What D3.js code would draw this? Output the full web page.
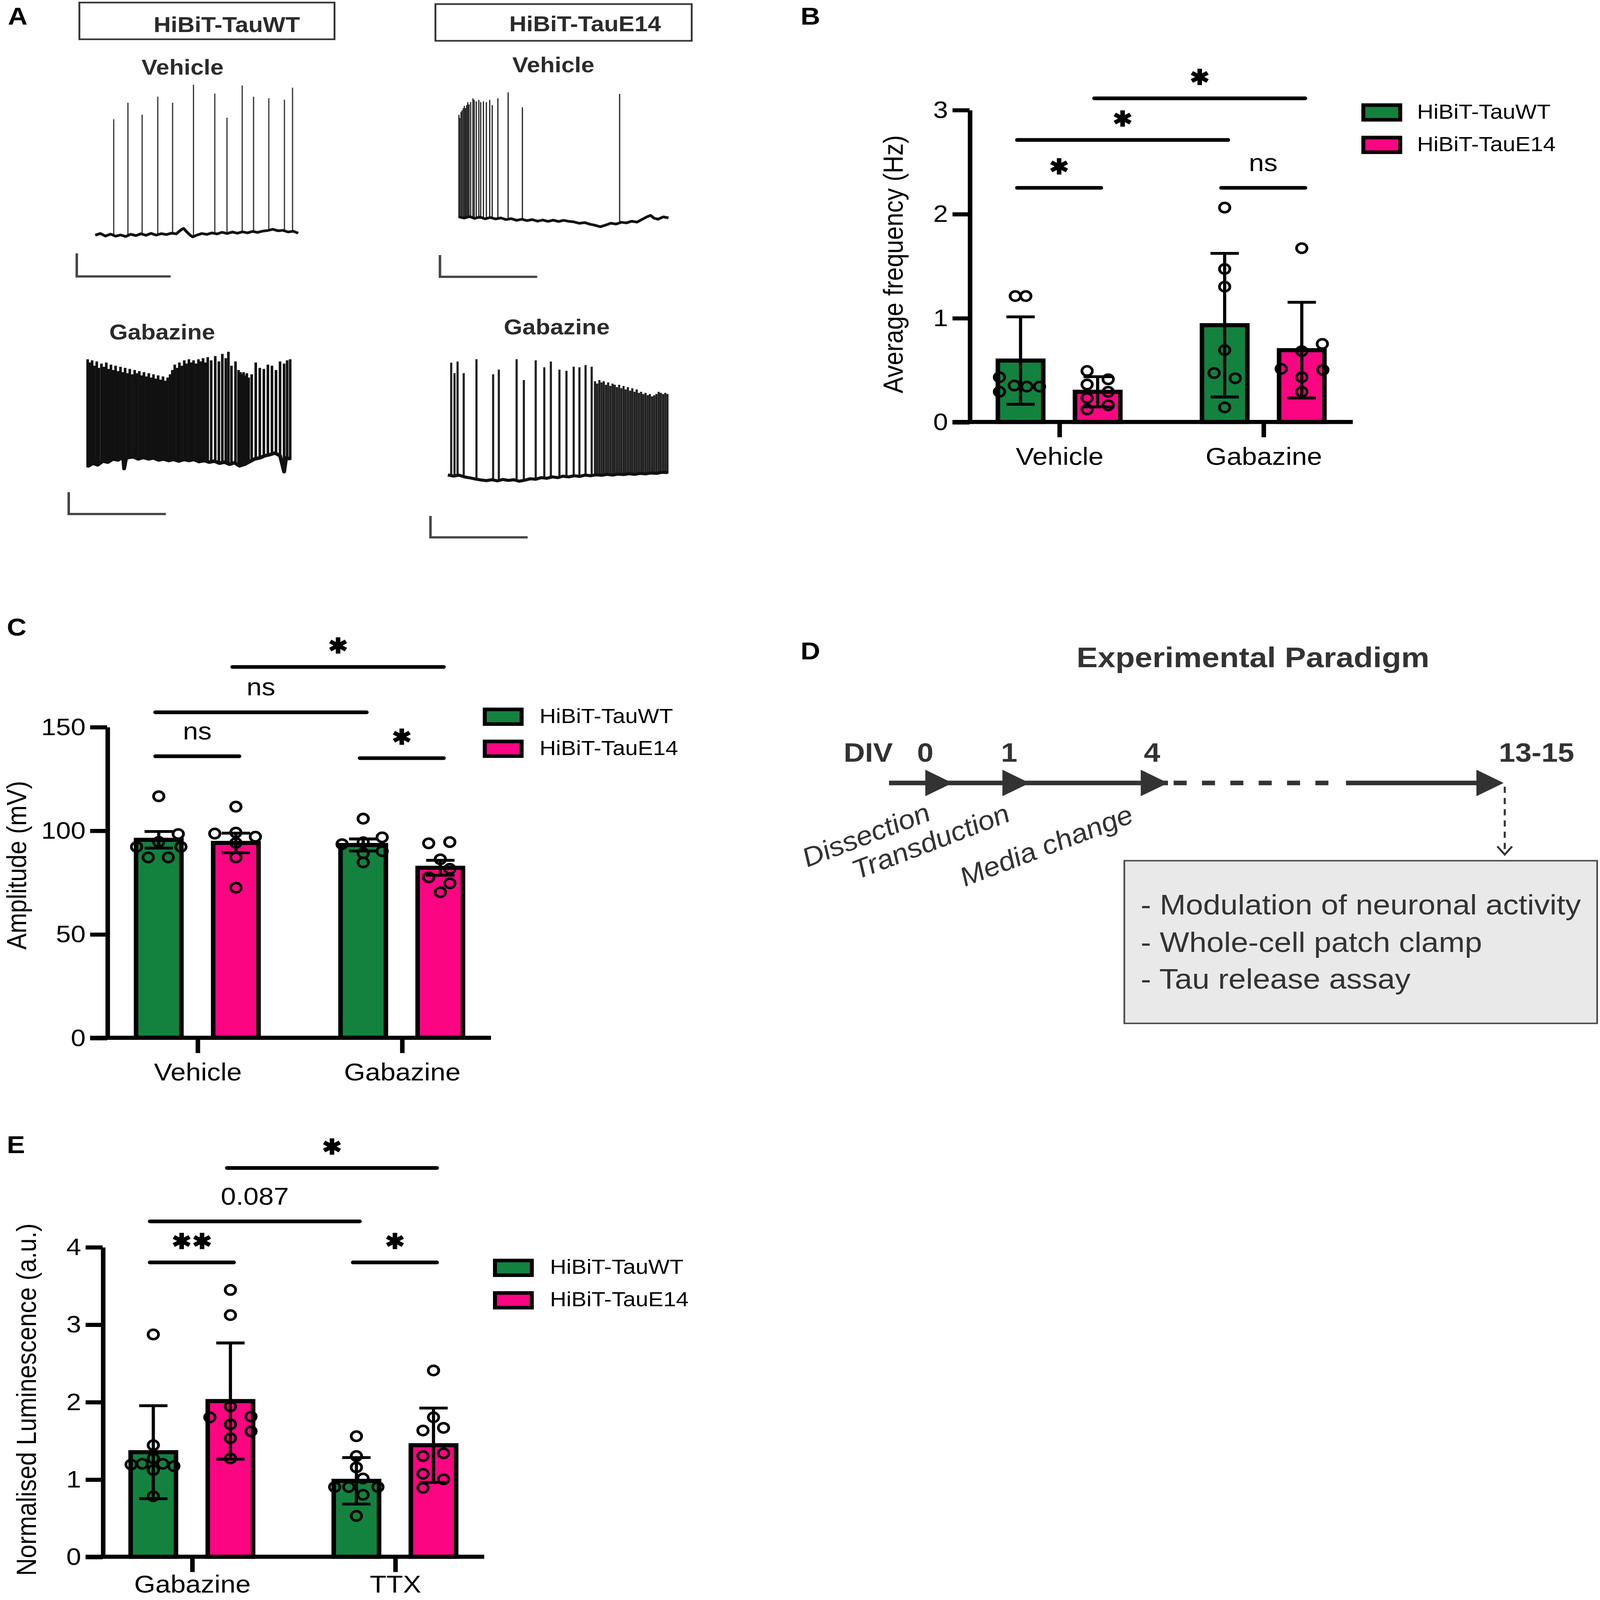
<!DOCTYPE html>
<html><head><meta charset="utf-8">
<script src="https://cdn.jsdelivr.net/npm/d3@7"></script>
<style>html,body{margin:0;padding:0;background:#fff;overflow:hidden;} svg{display:block;}</style>
</head><body><svg id="fig"></svg>
<script>
// ================= DATA =================
const panelLetters = ["A", "B", "C", "D", "E"];
const seriesNames = ["HiBiT-TauWT", "HiBiT-TauE14"];
const traceConditions = ["Vehicle", "Vehicle", "Gabazine", "Gabazine"];

// Panel A traces: spikes [time (a.u. 0-10), peak (relative mV)], baseline [time, level]
const vehWTSpikes = [[0.91,77],[1.61,88],[2.31,80],[3.08,92],[3.81,88],[4.84,100],[5.89,94],[6.49,78],[7.24,99.5],[7.80,92],[8.55,91],[9.32,90],[9.72,98]];
const vehWTBase = [[0,-0.3],[0.25,0.8],[0.5,-0.9],[0.75,0.4],[1.0,-1.0],[1.25,-0.2],[1.5,-1.2],[1.75,0.3],[2.0,-0.6],[2.25,0.6],[2.5,-0.4],[2.75,0.9],[3.0,-0.3],[3.25,0.7],[3.5,0.1],[3.75,1.0],[4.0,0.6],[4.2,3.0],[4.35,4.2],[4.5,2.0],[4.65,0.0],[4.8,-1.5],[5.0,-0.3],[5.25,0.8],[5.5,0.2],[5.75,1.2],[6.0,0.5],[6.25,1.6],[6.5,0.8],[6.75,1.8],[7.0,1.0],[7.25,1.9],[7.5,1.2],[7.75,2.2],[8.0,1.5],[8.25,2.4],[8.5,2.8],[8.75,3.6],[9.0,2.6],[9.25,2.9],[9.5,1.8],[9.75,2.3],[10,1.0]];
const vehE14Spikes = [[0,69],[0.04,67],[0.10,71],[0.15,72],[0.21,73.5],[0.26,75],[0.31,73.5],[0.37,75.5],[0.42,77.5],[0.48,76],[0.56,77.5],[0.67,80],[0.73,79],[0.83,78],[0.95,79],[1.04,77.5],[1.17,78],[1.31,77.5],[1.47,79],[1.59,75.5],[1.86,80],[2.35,84],[3.03,74],[7.67,83]];
const vehE14Base = [[0,1.0],[0.25,0.2],[0.5,1.2],[0.75,0.0],[1.0,0.9],[1.25,-0.3],[1.5,0.6],[1.75,-0.4],[2.0,0.3],[2.25,-0.8],[2.5,-0.2],[2.75,-1.3],[3.0,-0.6],[3.25,-1.5],[3.5,-0.8],[3.75,-1.9],[4.0,-1.1],[4.25,-2.0],[4.5,-1.2],[4.75,-2.1],[5.0,-1.3],[5.25,-2.0],[5.5,-2.4],[5.75,-3.3],[6.0,-2.8],[6.25,-3.9],[6.5,-4.6],[6.75,-5.6],[7.0,-4.5],[7.25,-3.2],[7.5,-3.8],[7.75,-2.6],[8.0,-3.0],[8.25,-1.9],[8.5,-2.5],[8.75,-0.6],[9.0,1.2],[9.15,2.0],[9.3,0.2],[9.5,-0.6],[9.75,1.0],[10,0.3]];
const gabWTSpikes = [[0.00,98],[0.10,95],[0.22,97],[0.33,92],[0.45,96],[0.55,90],[0.68,94],[0.80,91],[0.92,95],[1.03,89],[1.15,93],[1.27,88],[1.38,92],[1.50,87],[1.62,91],[1.73,86],[1.85,90],[1.97,85],[2.08,89],[2.20,84],[2.32,88],[2.43,85],[2.55,87],[2.67,83],[2.78,86],[2.90,82],[3.02,85],[3.13,81],[3.25,84],[3.37,80],[3.48,83],[3.60,79],[3.72,82],[3.83,78],[3.95,81],[4.07,84],[4.18,88],[4.30,93],[4.42,90],[4.53,95],[4.65,92],[4.77,97],[4.88,94],[5.00,98],[5.12,95],[5.23,97],[5.35,94],[5.47,98],[5.58,96],[5.70,99],[5.82,95],[5.93,100],[6.10,97],[6.30,101],[6.48,96],[6.65,103],[6.82,99],[6.95,105],[7.10,92],[7.30,96],[7.45,88],[7.55,86],[7.62,84],[7.70,86],[7.78,83],[7.86,85],[7.95,81],[8.10,84],[8.30,95],[8.50,90],[8.70,89],[8.90,93],[9.10,92],[9.30,88],[9.50,96],[9.70,94],[9.85,97],[10.0,98]];
const gabWTBase = [[0,-2],[0.25,1],[0.5,-0.5],[0.75,3],[1.0,2],[1.25,5],[1.5,4],[1.75,7],[1.8,-4],[1.9,6],[2.25,7],[2.5,5],[2.75,6.5],[3.0,5],[3.25,6],[3.5,4],[3.75,5],[4.0,3.5],[4.25,4.5],[4.5,3],[4.75,4.5],[5.0,3.5],[5.25,4.5],[5.5,2.5],[5.75,3.5],[6.0,2],[6.25,3],[6.5,1],[6.75,2],[7.0,0],[7.25,1.5],[7.5,-1.5],[7.75,0],[8.0,2.5],[8.25,5],[8.5,6],[8.75,8],[9.0,9],[9.25,10.5],[9.5,8],[9.7,-7],[9.8,6],[10,5]];
const gabE14Spikes = [[0.15,97],[0.30,88],[0.44,98],[0.72,88],[1.30,100],[2.06,87],[2.32,91],[3.13,100],[3.46,82],[4.00,99],[4.39,93],[4.69,98],[5.08,91],[5.40,90],[5.73,93.5],[5.99,93],[6.27,95],[6.55,93.5],[6.70,81],[6.80,79],[6.90,82],[7.00,80],[7.10,81],[7.20,78],[7.30,80],[7.40,77],[7.50,79],[7.60,78],[7.70,76],[7.80,78],[7.90,75],[8.00,77],[8.10,74],[8.20,76],[8.30,73],[8.40,75],[8.50,72],[8.60,74],[8.70,71],[8.80,72],[8.90,70],[9.00,71],[9.10,69],[9.20,70],[9.30,68],[9.40,69],[9.50,70],[9.60,72],[9.70,71],[9.80,70],[9.90,71],[10.0,70]];
const gabE14Base = [[0,0.5],[0.25,-0.5],[0.5,0.3],[0.75,-1.2],[1.0,-2.0],[1.25,-3.0],[1.5,-3.8],[1.75,-4.4],[2.0,-3.6],[2.25,-4.6],[2.5,-3.4],[2.75,-4.2],[3.0,-3.6],[3.25,-4.9],[3.5,-4.0],[3.75,-2.8],[4.0,-3.2],[4.25,-1.8],[4.5,-2.4],[4.75,-1.2],[5.0,-1.8],[5.25,-0.6],[5.5,-1.2],[5.75,-0.2],[6.0,-0.8],[6.25,0.4],[6.5,-0.2],[6.75,0.6],[7.0,0.2],[7.25,1.0],[7.5,0.4],[7.75,1.2],[8.0,0.8],[8.25,1.6],[8.5,1.0],[8.75,1.8],[9.0,1.4],[9.25,2.2],[9.5,1.8],[9.75,2.8],[10,2.5]];

// Panel B: average frequency (Hz), mean ± SD
const groupsB = ["Vehicle", "Gabazine"];
const freqTicks = [0, 1, 2, 3];
const freqWT = [0.59, 0.93];
const freqE14 = [0.29, 0.69];
const freqWTErr = [0.42, 0.69];
const freqE14Err = [0.145, 0.46];
const freqWTPts = [[1.21,1.21,0.43,0.29,0.35,0.34,0.34],[2.06,1.47,1.30,0.69,0.47,0.42,0.14]];
const freqE14Pts = [[0.49,0.36,0.41,0.29,0.23,0.16,0.12],[1.67,0.75,0.68,0.51,0.50,0.43,0.29]];
const freqSig = [
  {a:[0,0], b:[0,1], y:2.25, label:"*"},
  {a:[0,0], b:[1,0], y:2.71, label:"*"},
  {a:[0,1], b:[1,1], y:3.11, label:"*"},
  {a:[1,0], b:[1,1], y:2.25, label:"ns"}];

// Panel C: amplitude (mV), mean ± SEM
const groupsC = ["Vehicle", "Gabazine"];
const ampTicks = [0, 50, 100, 150];
const ampWT = [95.5, 93];
const ampE14 = [94, 82];
const ampWTErr = [4.0, 2.9];
const ampE14Err = [4.7, 3.6];
const ampWTPts = [[116.5,98.3,92.1,94.5,92.1,87,87],[105.7,96.7,93.4,94.3,90,89,84.6]];
const ampE14Pts = [[111.5,98.5,99,97,94,87,72.4],[93.8,94.4,86.1,77.4,81.5,74.5,70.2]];
const ampSig = [
  {a:[0,0], b:[0,1], y:135.8, label:"ns"},
  {a:[0,0], b:[1,0], y:157, label:"ns"},
  {a:[0,1], b:[1,1], y:178.9, label:"*"},
  {a:[1,0], b:[1,1], y:134.9, label:"*"}];

// Panel E: normalised luminescence (a.u.), mean ± SD
const groupsE = ["Gabazine", "TTX"];
const lumTicks = [0, 1, 2, 3, 4];
const lumWT = [1.35, 0.98];
const lumE14 = [2.01, 1.44];
const lumWTErr = [0.60, 0.30];
const lumE14Err = [0.75, 0.48];
const lumWTPts = [[2.87,1.44,1.19,1.20,1.27,1.20,1.17,1.12,0.78],[1.556,1.30,1.154,1.01,0.90,0.90,0.90,0.80,0.527]];
const lumE14Pts = [[3.445,3.12,1.94,1.80,1.81,1.71,1.62,1.53,1.27],[2.405,1.80,1.63,1.664,1.30,1.336,1.07,1.00,0.89]];
const lumSig = [
  {a:[0,0], b:[0,1], y:3.80, label:"**"},
  {a:[0,0], b:[1,0], y:4.33, label:"0.087"},
  {a:[0,1], b:[1,1], y:5.02, label:"*"},
  {a:[1,0], b:[1,1], y:3.80, label:"*"}];

// Panel D: timeline
const timelineDays = [0, 1, 4, 14];
const timelineLabels = ["0", "1", "4", "13-15"];
const timelineEvents = ["Dissection", "Transduction", "Media change"];
const assayItems = ["- Modulation of neuronal activity", "- Whole-cell patch clamp", "- Tau release assay"];

// ================= LAYOUT (positions / styles) =================
const VW = 1411, VH = 1568;   // design units (reference aspect 4328x4810)
const W = window.innerWidth || 4328, H = window.innerHeight || 4810;
const FONT = "'Liberation Sans', Arial, Helvetica, sans-serif";
const GREEN = "#13823f", PINK = "#fc0582", COLORS = [GREEN, PINK];
const DARK = "#2b2b2b";
const letterPos = [[7,24],[706,24],[6,623],[706,646],[6,1130]];
// horizontal point jitter in units of point spacing
const jitFreqWT = [[-0.5,0.5,-2,-2,-0.6,0.6,1.8],[0,0,0,0,-1,1,0]];
const jitFreqE14 = [[-1,-1,1,1,-1,1,-1],[0,1.95,0,-1.95,2,0,0]];
const jitAmpWT = [[0,1.85,-2.1,0,2.1,-1,0.9],[0,1.8,-2,0,1.8,0,0]];
const jitAmpE14 = [[0,-2,0,1.85,0,0,0],[-1.1,0.9,0,-1.1,0.9,0.9,0]];
const jitLumWT = [[0,0,-2.1,-1.05,0,0.9,1.95,0,0],[0,0,0,0.63,-2.06,-0.72,2.04,0.63,0]];
const jitLumE14 = [[0,0,0,-1.95,1.95,0,1.95,0,0],[0,0,-1,0.95,-1,0.95,-1,0.95,-1]];

const svg = d3.select("#fig").attr("width", W).attr("height", H)
  .attr("viewBox", `0 0 ${VW} ${VH}`).attr("preserveAspectRatio", "none");
svg.append("rect").attr("width", VW).attr("height", VH).attr("fill", "#fff");

panelLetters.forEach((L, i) => {
  svg.append("text").attr("x", letterPos[i][0]).attr("y", letterPos[i][1])
    .attr("font-family", FONT).attr("font-weight", "bold").attr("font-size", 24)
    .attr("fill", "#000").text(L);
});

// ================= PANEL A =================
const aBoxes = [{x:70,y:2.5,w:225,h:36,tx:200,ty:31.5},{x:384,y:4,w:226,h:36,tx:516,ty:30.5}];
aBoxes.forEach((b, i) => {
  svg.append("rect").attr("x", b.x).attr("y", b.y).attr("width", b.w).attr("height", b.h)
    .attr("fill", "none").attr("stroke", "#333").attr("stroke-width", 1.6);
  svg.append("text").attr("x", b.tx).attr("y", b.ty).attr("text-anchor", "middle")
    .attr("font-family", FONT).attr("font-weight", "bold").attr("font-size", 21)
    .attr("fill", DARK).text(seriesNames[i]);
});
const condPos = [[161,73],[488,71],[143,332.7],[491,327.7]];
traceConditions.forEach((c, i) => {
  svg.append("text").attr("x", condPos[i][0]).attr("y", condPos[i][1]).attr("text-anchor", "middle")
    .attr("font-family", FONT).attr("font-weight", "bold").attr("font-size", 21)
    .attr("fill", DARK).text(c);
});

const traceFrames = [
  {x0:84, x1:263, yb:230, yt:83, sw:1.1, col:"#3a3a3a", bw:2.6},
  {x0:404.7, x1:589.5, yb:214, yt:67, sw:1.1, col:"#2a2a2a", bw:2.6},
  {x0:77.3, x1:255.9, yb:455, yt:350, sw:2.3, col:"#111", bw:3.4},
  {x0:395, x1:588.6, yb:466, yt:352, sw:1.9, col:"#222", bw:3.0}];
const traceData = [[vehWTSpikes, vehWTBase],[vehE14Spikes, vehE14Base],[gabWTSpikes, gabWTBase],[gabE14Spikes, gabE14Base]];
const scaleBars = [{x:67.7,y:270.9,w:82.8,h:22.6},{x:388,y:271.3,w:85.7,h:21.3},{x:60.6,y:503.7,w:85.7,h:21.4},{x:379.6,y:526.6,w:85.7,h:20.9}];

traceData.forEach(([spikes, base], i) => {
  const f = traceFrames[i];
  const tx = d3.scaleLinear().domain([0, 10]).range([f.x0, f.x1]);
  const vy = d3.scaleLinear().domain([0, 100]).range([f.yb, f.yt]);
  const baseAt = d3.scaleLinear().domain(base.map(d => d[0])).range(base.map(d => d[1])).clamp(true);
  const g = svg.append("g");
  g.selectAll("line.spike").data(spikes).join("line").attr("class", "spike")
    .attr("x1", d => tx(d[0])).attr("x2", d => tx(d[0]))
    .attr("y1", d => vy(baseAt(d[0])) + 1).attr("y2", d => vy(d[1]))
    .attr("stroke", f.col).attr("stroke-width", f.sw);
  g.append("path").datum(base)
    .attr("d", d3.line().x(d => tx(d[0])).y(d => vy(d[1])))
    .attr("fill", "none").attr("stroke", "#111").attr("stroke-width", f.bw)
    .attr("stroke-linejoin", "round");
  const sb = scaleBars[i];
  g.append("path").attr("d", `M${sb.x},${sb.y - sb.h}V${sb.y}H${sb.x + sb.w}`)
    .attr("fill", "none").attr("stroke", "#444").attr("stroke-width", 2.2);
});

// ================= BAR PANELS =================
function barPanel(P) {
  const g = svg.append("g");
  const y = d3.scaleLinear().domain([0, P.yMax]).range([P.y0, P.y1]);
  const x = d3.scalePoint().domain(P.groups).range([P.g0, P.g1]);
  const s = d3.scalePoint().domain(seriesNames).range([-34, 34]);
  const BW = 40, R = 4.6, JIT = 9.3;
  const cxOf = (gi, si) => x(P.groups[gi]) + s(seriesNames[si]);

  P.means.forEach((arr, si) => arr.forEach((m, gi) => {
    g.append("rect").attr("x", cxOf(gi, si) - BW / 2).attr("y", y(m))
      .attr("width", BW).attr("height", y(0) - y(m))
      .attr("fill", COLORS[si]).attr("stroke", "#000").attr("stroke-width", 4);
  }));
  P.errs.forEach((arr, si) => arr.forEach((e, gi) => {
    const cx = cxOf(gi, si), m = P.means[si][gi];
    const hi = y(m + e), lo = y(m - e);
    g.append("path").attr("d", `M${cx},${hi}V${lo}M${cx - 12.5},${hi}H${cx + 12.5}M${cx - 12.5},${lo}H${cx + 12.5}`)
      .attr("fill", "none").attr("stroke", "#000").attr("stroke-width", 2.8);
  }));
  P.pts.forEach((byGroup, si) => byGroup.forEach((vals, gi) => {
    vals.forEach((v, k) => {
      g.append("circle").attr("cx", cxOf(gi, si) + P.jit[si][gi][k] * JIT).attr("cy", y(v))
        .attr("r", R).attr("fill", "none").attr("stroke", "#000").attr("stroke-width", 2.4);
    });
  }));

  const yAx = g.append("g").attr("transform", `translate(${P.ax},0)`)
    .call(d3.axisLeft(y).tickValues(P.ticks).tickSize(15).tickSizeOuter(0).tickPadding(4).tickFormat(d3.format("d")));
  yAx.attr("font-size", 23.5).attr("font-family", FONT);
  yAx.selectAll("path,line").attr("stroke", "#000").attr("stroke-width", 4);
  yAx.selectAll("text").attr("fill", "#000");
  g.append("line").attr("x1", P.ax - 15).attr("x2", P.xEnd).attr("y1", y(0)).attr("y2", y(0))
    .attr("stroke", "#000").attr("stroke-width", 4);
  const xAx = g.append("g").attr("transform", `translate(0,${y(0)})`)
    .call(d3.axisBottom(x).tickSize(15).tickPadding(P.xPad));
  xAx.select(".domain").remove();
  xAx.attr("font-size", 24).attr("font-family", FONT);
  xAx.selectAll("line").attr("stroke", "#000").attr("stroke-width", 4);
  xAx.selectAll("text").attr("fill", "#000");

  g.append("text").attr("transform", `translate(${P.ylx},${P.yly}) rotate(-90)`)
    .attr("text-anchor", "middle").attr("font-family", FONT).attr("font-size", 24)
    .attr("fill", "#000").text(P.yLabel);

  P.sig.forEach(d => {
    const xa = cxOf(d.a[0], d.a[1]) - 3, xb = cxOf(d.b[0], d.b[1]) + 3, yy = y(d.y);
    g.append("line").attr("x1", xa).attr("x2", xb).attr("y1", yy).attr("y2", yy)
      .attr("stroke", "#000").attr("stroke-width", 3.6).attr("stroke-linecap", "round");
    const xm = (xa + xb) / 2;
    if (/^\*+$/.test(d.label)) {
      const n = d.label.length;
      for (let i = 0; i < n; i++) {
        g.append("path").attr("d", d3.symbol(d3.symbolAsterisk, 180)())
          .attr("transform", `translate(${xm + (i - (n - 1) / 2) * 18},${yy - 21})`)
          .attr("fill", "none").attr("stroke", "#000").attr("stroke-width", 4);
      }
    } else {
      g.append("text").attr("x", xm).attr("y", yy - 16.5).attr("text-anchor", "middle")
        .attr("font-family", FONT).attr("font-size", 24).attr("fill", "#000").text(d.label);
    }
  });

  seriesNames.forEach((nm, i) => {
    const cy = P.legY + i * P.legDy;
    g.append("rect").attr("x", P.legX).attr("y", cy - 7.2).attr("width", 32.5).attr("height", 14.4)
      .attr("fill", COLORS[i]).attr("stroke", "#000").attr("stroke-width", 3.5);
    g.append("text").attr("x", P.legTx).attr("y", cy + 6).attr("font-family", FONT)
      .attr("font-size", 20).attr("fill", "#000").text(nm);
  });
}

barPanel({groups: groupsB, means: [freqWT, freqE14], errs: [freqWTErr, freqE14Err],
  pts: [freqWTPts, freqE14Pts], jit: [jitFreqWT, jitFreqE14], ticks: freqTicks, yMax: 3,
  y0: 413.5, y1: 107.6, g0: 934, g1: 1114, ax: 855, xEnd: 1193, xPad: 10,
  ylx: 796, yly: 259, yLabel: "Average frequency (Hz)", sig: freqSig,
  legX: 1202.3, legY: 110.2, legDy: 31.8, legTx: 1249.7});
barPanel({groups: groupsC, means: [ampWT, ampE14], errs: [ampWTErr, ampE14Err],
  pts: [ampWTPts, ampE14Pts], jit: [jitAmpWT, jitAmpE14], ticks: ampTicks, yMax: 150,
  y0: 1017, y1: 712.3, g0: 174, g1: 354.3, ax: 94.5, xEnd: 433, xPad: 10,
  ylx: 23, yly: 848, yLabel: "Amplitude (mV)", sig: ampSig,
  legX: 427.5, legY: 702.4, legDy: 31.4, legTx: 475.8});
barPanel({groups: groupsE, means: [lumWT, lumE14], errs: [lumWTErr, lumE14Err],
  pts: [lumWTPts, lumE14Pts], jit: [jitLumWT, jitLumE14], ticks: lumTicks, yMax: 4,
  y0: 1525.6, y1: 1222, g0: 169.2, g1: 348.3, ax: 90.5, xEnd: 427, xPad: 3,
  ylx: 31.7, yly: 1371.6, yLabel: "Normalised Luminescence (a.u.)", sig: lumSig,
  legX: 436.5, legY: 1242.5, legDy: 31.8, legTx: 485});

// ================= PANEL D =================
(function panelD() {
  const g = svg.append("g");
  const C = "#333";
  const dayX = d3.scaleLinear().domain(timelineDays).range([840, 908, 1030, 1326]);
  const yL = 767.3;
  g.append("text").attr("x", 1105).attr("y", 654).attr("text-anchor", "middle")
    .attr("font-family", FONT).attr("font-weight", "bold").attr("font-size", 28)
    .attr("fill", C).text("Experimental Paradigm");
  g.append("text").attr("x", 744).attr("y", 746.4).attr("font-family", FONT)
    .attr("font-weight", "bold").attr("font-size", 26).attr("fill", C).text("DIV");
  const labelDx = [-24, -18, -14, 29];
  timelineDays.forEach((d, i) => {
    g.append("text").attr("x", dayX(d) + labelDx[i]).attr("y", 746.4).attr("text-anchor", "middle")
      .attr("font-family", FONT).attr("font-weight", "bold").attr("font-size", 26)
      .attr("fill", C).text(timelineLabels[i]);
  });
  g.append("line").attr("x1", 784).attr("x2", dayX(4)).attr("y1", yL).attr("y2", yL)
    .attr("stroke", C).attr("stroke-width", 4.5);
  g.append("line").attr("x1", dayX(4) + 5).attr("x2", 1173).attr("y1", yL).attr("y2", yL)
    .attr("stroke", C).attr("stroke-width", 4.5).attr("stroke-dasharray", "11.5 13.5");
  g.append("line").attr("x1", 1187).attr("x2", dayX(14) - 5).attr("y1", yL).attr("y2", yL)
    .attr("stroke", C).attr("stroke-width", 4.5);
  timelineDays.forEach(d => {
    const tx = dayX(d);
    g.append("path").attr("d", `M${tx},${yL}L${tx - 24},${yL - 13}L${tx - 24},${yL + 13}Z`).attr("fill", C);
  });
  const evPos = [[712, 850], [756, 862], [851, 869]];
  timelineEvents.forEach((e, i) => {
    g.append("text").attr("transform", `translate(${evPos[i][0]},${evPos[i][1]}) rotate(-23)`)
      .attr("font-family", FONT).attr("font-style", "italic").attr("font-size", 26)
      .attr("fill", C).text(e);
  });
  const ax = dayX(14) + 1;
  g.append("line").attr("x1", ax).attr("x2", ax).attr("y1", 771).attr("y2", 836)
    .attr("stroke", C).attr("stroke-width", 1.8).attr("stroke-dasharray", "6 5");
  g.append("path").attr("d", `M${ax - 6.5},${829.5}L${ax},${837.5}L${ax + 6.5},${829.5}`)
    .attr("fill", "none").attr("stroke", C).attr("stroke-width", 1.8);
  g.append("rect").attr("x", 991.5).attr("y", 843.5).attr("width", 417).attr("height", 159.4)
    .attr("fill", "#e9e9e9").attr("stroke", "#4d4d4d").attr("stroke-width", 1.5);
  const itemY = [896, 933, 969];
  assayItems.forEach((t, i) => {
    g.append("text").attr("x", 1006).attr("y", itemY[i]).attr("font-family", FONT)
      .attr("font-size", 27.5).attr("fill", C).text(t);
  });
})();
</script></body></html>
